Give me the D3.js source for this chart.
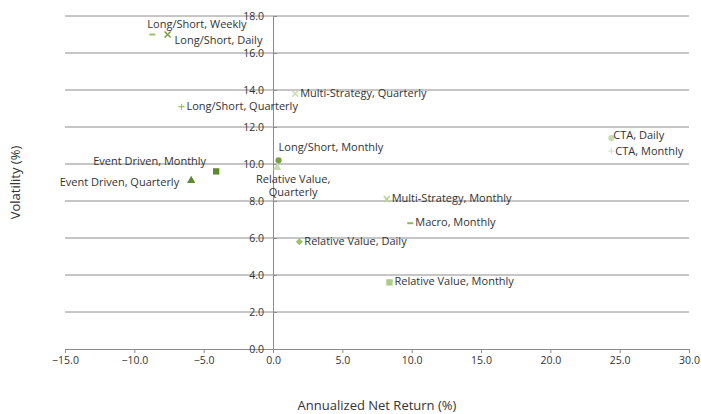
<!DOCTYPE html>
<html>
<head>
<meta charset="utf-8">
<script src="https://cdn.jsdelivr.net/npm/d3@7"></script>
<style>
  body { margin: 0; background: #fff; }
  text { font-family: "Open Sans", "Noto Sans", sans-serif; fill: #333; }
</style>
</head>
<body>
<div id="chart"></div>
<script>
// series names, one point each
const names = [
  "Long/Short, Weekly", "Long/Short, Daily", "Long/Short, Quarterly",
  "Multi-Strategy, Quarterly", "Long/Short, Monthly", "Relative Value, Quarterly",
  "Event Driven, Monthly", "Event Driven, Quarterly", "CTA, Daily", "CTA, Monthly",
  "Multi-Strategy, Monthly", "Macro, Monthly", "Relative Value, Daily",
  "Relative Value, Monthly"
];
const returns = [-8.7, -7.6, -6.6, 1.6, 0.4, 0.3, -4.1, -5.9, 24.4, 24.4, 8.2, 9.9, 1.9, 8.4];
const vols = [17.0, 17.0, 13.1, 13.8, 10.2, 9.8, 9.6, 9.1, 11.4, 10.7, 8.1, 6.8, 5.8, 3.6];
const shapes = ["dash", "cross", "plus", "cross", "circle", "triangle", "square", "triangle",
  "circle", "plus", "cross", "dash", "diamond", "square"];
const colors = ["#9bc26b", "#7aa042", "#9bc26b", "#c5dcae", "#7aa042", "#c5dcae", "#5d8a2c",
  "#5d8a2c", "#c5dcae", "#d4e6c2", "#b7d49a", "#8fb85a", "#9bc26b", "#a9cc86"];
// label placement relative to the marker
const labelPos = ["weekly", "daily", "right", "right", "above", "below", "leftAbove",
  "left", "rightUp", "rightDown", "right", "right", "right", "right"];

const xTicks = d3.range(-15, 30.1, 5);
const yTicks = d3.range(0, 18.1, 2);

const width = 701, height = 414;
const x = d3.scaleLinear().domain([-15, 30]).range([65, 689]);
const y = d3.scaleLinear().domain([0, 18]).range([349, 16]);

const svg = d3.select("#chart").append("svg")
  .attr("width", width).attr("height", height);

// horizontal gridlines
svg.append("g").selectAll("line").data(yTicks.filter(d => d > 0)).join("line")
  .attr("x1", x(-15)).attr("x2", x(30))
  .attr("y1", d => y(d)).attr("y2", d => y(d))
  .attr("stroke", "#8c8c8c").attr("stroke-width", 1);

// x axis at y = 0
const xAxis = svg.append("g")
  .attr("transform", `translate(0,${y(0)})`)
  .call(d3.axisBottom(x).tickValues(xTicks).tickFormat(d3.format(".1f")).tickSize(4).tickPadding(4));

// y axis at x = 0
const yAxis = svg.append("g")
  .attr("transform", `translate(${x(0)},0)`)
  .call(d3.axisRight(y).tickValues(yTicks).tickFormat(d3.format(".1f")).tickSize(4));
yAxis.selectAll("text").attr("x", -9).attr("text-anchor", "end");

[xAxis, yAxis].forEach(a => {
  a.select(".domain").attr("stroke", "#8c8c8c");
  a.selectAll(".tick line").attr("stroke", "#8c8c8c");
  a.selectAll("text").style("font-size", "10.5px").attr("fill", "#333")
    .style("font-family", '"Open Sans", "Noto Sans", sans-serif');
});

const data = names.map((n, i) => ({ name: n, r: returns[i], v: vols[i], shape: shapes[i], color: colors[i], pos: labelPos[i] }));

const symbolMap = { circle: d3.symbolCircle, triangle: d3.symbolTriangle, square: d3.symbolSquare };

const pts = svg.append("g").selectAll("g").data(data).join("g")
  .attr("transform", d => `translate(${x(d.r)},${y(d.v)})`);

pts.each(function (d) {
  const g = d3.select(this);
  if (d.shape === "dash") {
    g.append("line").attr("x1", -3).attr("x2", 3).attr("stroke", d.color).attr("stroke-width", 2);
  } else if (d.shape === "plus") {
    g.append("path").attr("d", "M-3,0H3M0,-3V3").attr("stroke", d.color).attr("stroke-width", 1.2);
  } else if (d.shape === "cross") {
    g.append("path").attr("d", "M-3,-3L3,3M-3,3L3,-3").attr("stroke", d.color).attr("stroke-width", 1.5);
  } else if (d.shape === "diamond") {
    g.append("path").attr("d", "M0,-3.5L3.5,0L0,3.5L-3.5,0Z").attr("fill", d.color);
  } else {
    const size = d.shape === "square" ? 40 : 30;
    g.append("path").attr("d", d3.symbol(symbolMap[d.shape], size)()).attr("fill", d.color);
  }
});

const labelOffsets = {
  right: { dx: 5, dy: 0, anchor: "start" },
  rightUp: { dx: 2, dy: -2, anchor: "start" },
  rightDown: { dx: 4, dy: 1, anchor: "start" },
  left: { dx: -12, dy: 2, anchor: "end" },
  leftAbove: { dx: -10, dy: -9, anchor: "end" },
  above: { dx: 0, dy: -12, anchor: "start" },
  weekly: { dx: -5, dy: -9, anchor: "start" },
  daily: { dx: 7, dy: 7, anchor: "start" }
};

const labels = svg.append("g").selectAll("text").data(data).join("text")
  .style("font-size", "11px")
  .attr("dominant-baseline", "middle");

labels.each(function (d) {
  const t = d3.select(this);
  if (d.pos === "below") {
    const parts = d.name.split(", ");
    t.attr("text-anchor", "middle");
    t.append("tspan").attr("x", x(d.r) + 16).attr("y", y(d.v) + 12).text(parts[0] + ",");
    t.append("tspan").attr("x", x(d.r) + 16).attr("y", y(d.v) + 25).text(parts[1]);
  } else {
    const o = labelOffsets[d.pos];
    t.attr("x", x(d.r) + o.dx).attr("y", y(d.v) + o.dy).attr("text-anchor", o.anchor).text(d.name);
  }
});

// axis titles
svg.append("text")
  .attr("transform", `translate(17,${(y(0) + y(18)) / 2}) rotate(-90)`)
  .attr("text-anchor", "middle").attr("dominant-baseline", "middle")
  .style("font-size", "13px").text("Volatility (%)");

svg.append("text")
  .attr("x", (x(-15) + x(30)) / 2).attr("y", 407)
  .attr("text-anchor", "middle").attr("dominant-baseline", "middle")
  .style("font-size", "13px").text("Annualized Net Return (%)");
</script>
</body>
</html>
